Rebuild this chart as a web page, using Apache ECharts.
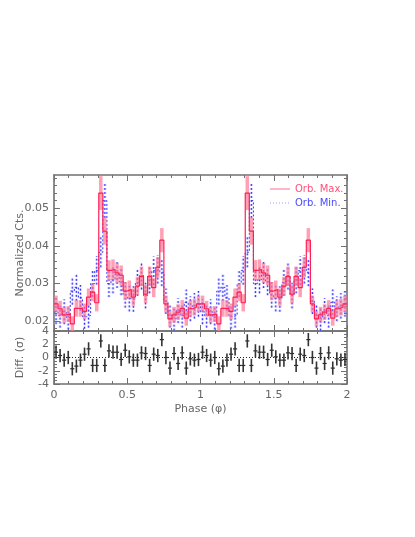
<!DOCTYPE html>
<html>
<head>
<meta charset="utf-8">
<script src="https://cdn.jsdelivr.net/npm/echarts@6/dist/echarts.min.js"></script>
<style>html,body{margin:0;padding:0;background:#fff;}#c{width:415px;height:537px;}</style>
</head>
<body>
<div id="c"></div>
<script>
// ---- data (one rotation, 36 phase bins; plotted twice over phase 0-2) ----
const orbMax = [0.0246,0.0233,0.0217,0.0219,0.0193,0.0234,0.0234,0.0226,0.0264,0.0277,0.0249,0.0540,
                0.0439,0.0335,0.0337,0.0328,0.0322,0.0280,0.0284,0.0264,0.0293,0.0319,0.0272,0.0319,
                0.0289,0.0343,0.0415,0.0246,0.0206,0.0217,0.0224,0.0234,0.0208,0.0233,0.0237,0.0246];
const orbMaxErr = [0.0022,0.0021,0.0021,0.0021,0.0020,0.0022,0.0022,0.0021,0.0023,0.0024,0.0023,0.0045,
                   0.0036,0.0027,0.0027,0.0026,0.0026,0.0024,0.0024,0.0023,0.0025,0.0026,0.0024,0.0026,
                   0.0025,0.0027,0.0032,0.0022,0.0020,0.0021,0.0021,0.0022,0.0020,0.0022,0.0022,0.0022];
const orbMin = [0.0225,0.0215,0.0225,0.0210,0.0280,0.0290,0.0262,0.0212,0.0215,0.0300,0.0335,0.0383,
                0.0520,0.0300,0.0310,0.0325,0.0305,0.0270,0.0260,0.0259,0.0303,0.0321,0.0268,0.0310,
                0.0334,0.0338,0.0330,0.0253,0.0215,0.0206,0.0228,0.0215,0.0250,0.0233,0.0241,0.0246];
const orbMinErr = [0.0033,0.0032,0.0033,0.0032,0.0036,0.0036,0.0034,0.0032,0.0032,0.0036,0.0038,0.0040,
                   0.0046,0.0036,0.0036,0.0037,0.0036,0.0034,0.0034,0.0034,0.0036,0.0037,0.0034,0.0036,
                   0.0038,0.0038,0.0037,0.0034,0.0032,0.0031,0.0033,0.0032,0.0034,0.0033,0.0034,0.0034];
const diffSigma = [0.8,0.3,-0.4,0.0,-1.7,-1.3,-0.4,0.5,1.3,-1.2,-1.2,2.5,
                   -1.2,1.0,0.8,0.8,-0.3,1.1,0.1,-0.4,-0.4,0.7,0.6,-1.2,
                   0.5,0.3,2.7,0.0,-1.6,0.6,-0.9,0.7,-1.6,-0.2,-0.4,-0.3];
const diffErr = [1,1,1,1,1,1,1,1,1,1,1,1, 1,1,1,1,1,1,1,1,1,1,1,1, 1,1,1,1,1,1,1,1,1,1,1,1];

const seriesNames = ['Orb. Max.', 'Orb. Min.'];
const phaseTicks = [0, 0.5, 1, 1.5, 2];
const ctsMajorTicks = [0.02, 0.03, 0.04, 0.05];
const ctsMinorTicks = [0.018,0.022,0.024,0.026,0.028,0.032,0.034,0.036,0.038,0.042,0.044,0.046,0.048,0.052,0.054,0.056,0.058];
const diffTicks = [-4, -2, 0, 2, 4];

// ---- build series data ----
const cycles = a => a.concat(a);
const rMax = cycles(orbMax), rMaxE = cycles(orbMaxErr);
const rMin = cycles(orbMin), rMinE = cycles(orbMinErr);
const rDiff = cycles(diffSigma), rDiffE = cycles(diffErr);
const N = rMax.length, W = 2 / N;
const stepData = arr => arr.map((v, i) => [i * W, v]).concat([[2, arr[arr.length - 1]]]);
const errData = (arr, err) => arr.map((v, i) => [(i + 0.5) * W, v, err[i]]);

const GRID_L = 54, GRID_W = 293;
const AX = '#707070', LBL = '#666';
const FONT = 'DejaVu Sans';
const RED = '#ff1f55', BLUE = '#3030ff';

function errRender(color, width, dash) {
  return function (params, api) {
    const x = api.value(0), y = api.value(1), e = api.value(2);
    const p1 = api.coord([x, y - e]), p2 = api.coord([x, y + e]);
    return {type: 'line', shape: {x1: p1[0], y1: p1[1], x2: p2[0], y2: p2[1]},
            style: {stroke: color, lineWidth: width, lineDash: dash || null}};
  };
}
function diffRender(params, api) {
  const x = api.value(0), y = api.value(1), e = api.value(2);
  const a = api.coord([x - W / 2, y]), b = api.coord([x + W / 2, y]);
  const c = api.coord([x, y - e]), d = api.coord([x, y + e]);
  return {type: 'group', children: [
    {type: 'line', shape: {x1: a[0], y1: a[1], x2: b[0], y2: b[1]}, style: {stroke: '#222', lineWidth: 1.2}},
    {type: 'line', shape: {x1: c[0], y1: c[1], x2: d[0], y2: d[1]}, style: {stroke: '#333', lineWidth: 1.6}}
  ]};
}

function xAx(grid, pos, labels) {
  return {type: 'value', gridIndex: grid, position: pos, min: 0, max: 2, interval: 0.5,
    axisLine: {show: true, onZero: false, lineStyle: {color: AX, width: 1.6}},
    axisTick: {show: true, inside: true, length: 6, lineStyle: {color: AX, width: 1}},
    minorTick: {show: true, splitNumber: 5, length: 3, lineStyle: {color: AX, width: 1}},
    splitLine: {show: false}, minorSplitLine: {show: false},
    axisLabel: {show: labels, customValues: phaseTicks, color: LBL, fontSize: 11, fontFamily: FONT, margin: 6},
    name: labels ? 'Phase (\u03c6)' : '', nameLocation: 'middle', nameGap: 20, nameMoveOverlap: false,
    nameTextStyle: {color: LBL, fontSize: 11, fontFamily: FONT}};
}
function yCts(pos, major, labels) {
  const ticks = major ? ctsMajorTicks : ctsMinorTicks;
  return {type: 'value', gridIndex: 0, position: pos, min: 0.0174, max: 0.0588,
    axisLine: {show: major, onZero: false, lineStyle: {color: AX, width: 1.6}},
    axisTick: {show: true, inside: true, length: major ? 6 : 3, customValues: ticks, lineStyle: {color: AX, width: 1}},
    splitLine: {show: false},
    axisLabel: {show: labels, customValues: ctsMajorTicks, formatter: v => v.toFixed(2), color: LBL, fontSize: 11, fontFamily: FONT, margin: 5},
    name: labels ? 'Normalized Cts.' : '', nameLocation: 'middle', nameGap: 28, nameMoveOverlap: false,
    nameTextStyle: {color: LBL, fontSize: 11, fontFamily: FONT}};
}
function yDiff(pos, labels) {
  return {type: 'value', gridIndex: 1, position: pos, min: -4, max: 4, interval: 2,
    axisLine: {show: true, onZero: false, lineStyle: {color: AX, width: 1.6}},
    axisTick: {show: true, inside: true, length: 6, lineStyle: {color: AX, width: 1}},
    minorTick: {show: true, splitNumber: 4, length: 3, lineStyle: {color: AX, width: 1}},
    splitLine: {show: false}, minorSplitLine: {show: false},
    axisLabel: {show: labels, color: LBL, fontSize: 11, fontFamily: FONT, margin: 5,
                customValues: diffTicks},
    name: labels ? 'Diff. (\u03c3)' : '', nameLocation: 'middle', nameGap: 28, nameMoveOverlap: false,
    nameTextStyle: {color: LBL, fontSize: 11, fontFamily: FONT}};
}

const chart = echarts.init(document.getElementById('c'), null, {renderer: 'canvas'});
chart.setOption({
  animation: false,
  backgroundColor: '#fff',
  textStyle: {fontFamily: FONT},
  grid: [
    {left: GRID_L, width: GRID_W, top: 175, height: 156},
    {left: GRID_L, width: GRID_W, top: 331, height: 53}
  ],
  graphic: [
    {type: 'line', shape: {x1: 270, y1: 189, x2: 290, y2: 189}, style: {stroke: '#ff6f8f', lineWidth: 1}},
    {type: 'text', x: 295, y: 189, style: {text: seriesNames[0], fill: '#ff5078', font: '10px "DejaVu Sans"', textVerticalAlign: 'middle'}},
    {type: 'line', shape: {x1: 270, y1: 203, x2: 290, y2: 203}, style: {stroke: '#9a9aff', lineWidth: 1, lineDash: [1, 2]}},
    {type: 'text', x: 295, y: 203, style: {text: seriesNames[1], fill: '#4a4aff', font: '10px "DejaVu Sans"', textVerticalAlign: 'middle'}}
  ],
  xAxis: [xAx(0, 'bottom', false), xAx(0, 'top', false), xAx(1, 'bottom', true), xAx(1, 'top', false)],
  yAxis: [yCts('left', true, true), yCts('left', false, false), yCts('right', true, false), yCts('right', false, false),
          yDiff('left', true), yDiff('right', false)],
  series: [
    {type: 'custom', name: 'minErrWide', xAxisIndex: 0, yAxisIndex: 0, clip: true, silent: true,
     renderItem: errRender('rgba(160,160,255,0.55)', 3, [2, 2]), data: errData(rMin, rMinE), encode: {x: 0, y: 1}, z: 1},
    {type: 'custom', name: 'minErr', xAxisIndex: 0, yAxisIndex: 0, clip: true, silent: true,
     renderItem: errRender('#3535ff', 1, [2, 2]), data: errData(rMin, rMinE), encode: {x: 0, y: 1}, z: 2},
    {type: 'line', name: seriesNames[1], xAxisIndex: 0, yAxisIndex: 0, step: 'end', symbol: 'none', clip: true,
     lineStyle: {color: BLUE, width: 1, type: [2, 2]}, itemStyle: {color: BLUE},
     data: stepData(rMin), z: 3},
    {type: 'custom', name: 'maxErr', xAxisIndex: 0, yAxisIndex: 0, clip: true, silent: true,
     renderItem: errRender('rgba(255,120,150,0.7)', 3.5), data: errData(rMax, rMaxE), encode: {x: 0, y: 1}, z: 4},
    {type: 'line', name: seriesNames[0], xAxisIndex: 0, yAxisIndex: 0, step: 'end', symbol: 'none', clip: true,
     lineStyle: {color: RED, width: 1.2}, itemStyle: {color: RED},
     data: stepData(rMax), z: 5},
    {type: 'line', name: 'zero', xAxisIndex: 2, yAxisIndex: 4, symbol: 'none', silent: true,
     lineStyle: {color: '#222', width: 1, type: [1, 2]}, data: [[0, 0], [2, 0]], z: 1},
    {type: 'custom', name: 'diff', xAxisIndex: 2, yAxisIndex: 4, clip: true, silent: true,
     renderItem: diffRender, data: errData(rDiff, rDiffE), encode: {x: 0, y: 1}, z: 2}
  ]
});
</script>
</body>
</html>
